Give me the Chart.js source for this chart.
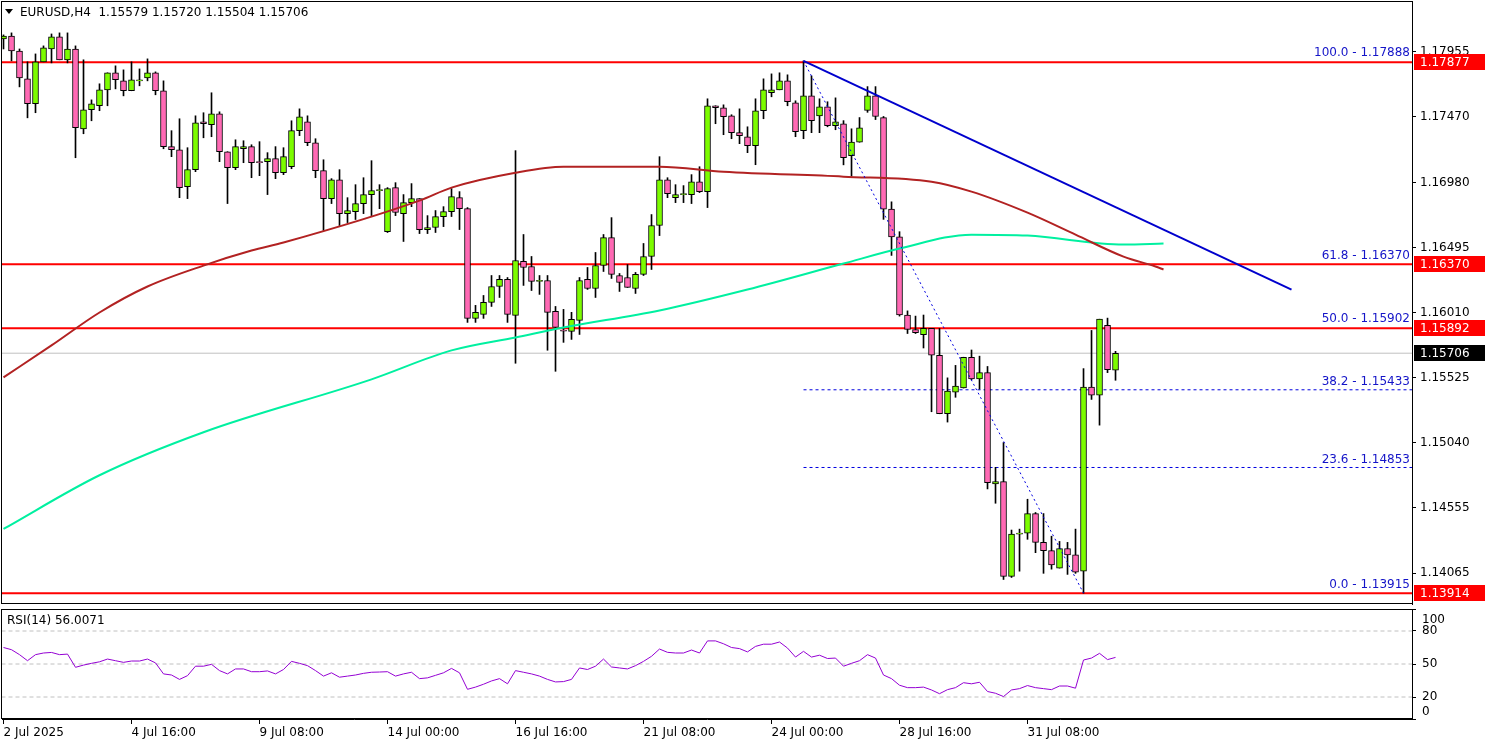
<!DOCTYPE html>
<html><head><meta charset="utf-8">
<script src="https://cdn.jsdelivr.net/npm/chart.js@4/dist/chart.umd.min.js"></script>
<style>
html,body{margin:0;padding:0;background:#fff;width:1485px;height:747px;overflow:hidden}
#w1{position:absolute;left:0;top:0;width:1485px;height:606px}
#w2{position:absolute;left:0;top:606px;width:1485px;height:141px}
</style></head><body>
<div id="w1"><canvas id="c1"></canvas></div>
<div id="w2"><canvas id="c2"></canvas></div>
<script>
const opens=[1.18052,1.18074,1.17962,1.17754,1.17568,1.17881,1.17977,1.18067,1.17896,1.17977,1.17381,1.17523,1.17553,1.17672,1.17799,1.17739,1.17665,1.17739,1.17761,1.17799,1.17665,1.17248,1.17225,1.16949,1.17076,1.17434,1.17411,1.17493,1.17210,1.17091,1.17232,1.17248,1.17136,1.17136,1.17158,1.17054,1.17098,1.17367,1.17434,1.17277,1.17069,1.16860,1.17001,1.16748,1.16763,1.16823,1.16890,1.16920,1.16614,1.16942,1.16748,1.16830,1.16860,1.16629,1.16644,1.16726,1.16763,1.16867,1.16785,1.15966,1.15996,1.16085,1.16204,1.16257,1.15988,1.16391,1.16353,1.16242,1.16249,1.16018,1.15877,1.15869,1.15951,1.16257,1.16189,1.16361,1.16569,1.16286,1.16271,1.16189,1.16294,1.16428,1.16659,1.17001,1.16867,1.16890,1.16890,1.16986,1.16912,1.17553,1.17538,1.17478,1.17352,1.17322,1.17255,1.17516,1.17650,1.17672,1.17739,1.17575,1.17367,1.17627,1.17478,1.17545,1.17404,1.17419,1.17181,1.17281,1.17519,1.17627,1.17465,1.16782,1.16574,1.15991,1.15883,1.15845,1.15891,1.15691,1.15254,1.15415,1.15446,1.15676,1.15515,1.15561,1.14731,1.14747,1.14040,1.14355,1.14363,1.14509,1.14294,1.14232,1.14102,1.14248,1.14201,1.14079,1.15453,1.15392,1.15914,1.15579];
const highs=[1.18082,1.18097,1.17977,1.17881,1.17940,1.18000,1.18089,1.18097,1.18097,1.18000,1.17896,1.17597,1.17717,1.17799,1.17851,1.17821,1.17881,1.17828,1.17903,1.17806,1.17739,1.17367,1.17456,1.17240,1.17478,1.17501,1.17650,1.17508,1.17210,1.17299,1.17292,1.17262,1.17285,1.17203,1.17248,1.17240,1.17441,1.17530,1.17478,1.17307,1.17150,1.17009,1.17076,1.16867,1.16964,1.17016,1.17143,1.16964,1.16942,1.16979,1.16890,1.16972,1.16860,1.16733,1.16771,1.16800,1.16935,1.16912,1.16793,1.16063,1.16137,1.16286,1.16286,1.16271,1.17218,1.16592,1.16428,1.16286,1.16286,1.16055,1.16033,1.16011,1.16271,1.16346,1.16458,1.16592,1.16718,1.16301,1.16368,1.16309,1.16525,1.16741,1.17173,1.17016,1.16964,1.16957,1.17039,1.17098,1.17605,1.17553,1.17560,1.17486,1.17530,1.17396,1.17605,1.17754,1.17791,1.17799,1.17784,1.17590,1.17888,1.17776,1.17605,1.17583,1.17612,1.17442,1.17381,1.17465,1.17696,1.17696,1.17473,1.16836,1.16613,1.16022,1.15983,1.15991,1.15891,1.15891,1.15522,1.15615,1.15676,1.15730,1.15684,1.15607,1.14854,1.15039,1.14386,1.14393,1.14616,1.14517,1.14509,1.14340,1.14301,1.14294,1.14393,1.15591,1.15876,1.15960,1.15968,1.15720];
const lows=[1.17977,1.17888,1.17694,1.17463,1.17501,1.17881,1.17873,1.17896,1.17873,1.17165,1.17344,1.17441,1.17516,1.17553,1.17679,1.17627,1.17665,1.17702,1.17739,1.17635,1.17232,1.17173,1.16867,1.16860,1.17061,1.17314,1.17322,1.17136,1.16823,1.17076,1.17128,1.17016,1.17031,1.16890,1.17009,1.17039,1.17083,1.17330,1.17255,1.17016,1.16622,1.16823,1.16659,1.16681,1.16704,1.16748,1.16733,1.16785,1.16607,1.16733,1.16540,1.16800,1.16599,1.16599,1.16607,1.16651,1.16726,1.16629,1.15936,1.15936,1.15966,1.16055,1.16122,1.15936,1.15631,1.16212,1.16174,1.16145,1.15728,1.15571,1.15787,1.15809,1.15846,1.16182,1.16122,1.16316,1.16264,1.16167,1.16197,1.16152,1.16286,1.16331,1.16584,1.16867,1.16830,1.16830,1.16823,1.16905,1.16793,1.17419,1.17337,1.17307,1.17270,1.17203,1.17113,1.17456,1.17620,1.17672,1.17553,1.17322,1.17307,1.17352,1.17352,1.17396,1.17374,1.17112,1.17028,1.17281,1.17504,1.17450,1.16705,1.16436,1.15983,1.15853,1.15853,1.15745,1.15269,1.15254,1.15192,1.15377,1.15446,1.15507,1.15438,1.14693,1.14586,1.14017,1.14032,1.14079,1.14317,1.14217,1.14063,1.14094,1.14102,1.14055,1.14063,1.13915,1.15361,1.15169,1.15561,1.15504];
const closes=[1.18074,1.17962,1.17761,1.17568,1.17881,1.17985,1.18067,1.17896,1.17977,1.17389,1.17523,1.17568,1.17672,1.17799,1.17747,1.17665,1.17747,1.17740,1.17799,1.17665,1.17248,1.17225,1.16942,1.17076,1.17426,1.17419,1.17493,1.17210,1.17091,1.17248,1.17248,1.17128,1.17129,1.17158,1.17054,1.17173,1.17367,1.17470,1.17277,1.17069,1.16860,1.17001,1.16748,1.16771,1.16823,1.16890,1.16920,1.16921,1.16935,1.16756,1.16830,1.16860,1.16629,1.16644,1.16726,1.16763,1.16875,1.16785,1.15966,1.16011,1.16085,1.16204,1.16257,1.15996,1.16398,1.16346,1.16242,1.16243,1.16011,1.15899,1.15870,1.15958,1.16249,1.16189,1.16361,1.16569,1.16294,1.16234,1.16197,1.16294,1.16428,1.16659,1.17001,1.16897,1.16890,1.16891,1.16986,1.16912,1.17553,1.17538,1.17471,1.17352,1.17329,1.17255,1.17516,1.17672,1.17672,1.17739,1.17583,1.17359,1.17627,1.17441,1.17545,1.17404,1.17434,1.17166,1.17281,1.17389,1.17627,1.17473,1.16782,1.16574,1.15991,1.15883,1.15860,1.15891,1.15691,1.15254,1.15423,1.15461,1.15676,1.15515,1.15561,1.14739,1.14747,1.14040,1.14355,1.14363,1.14509,1.14294,1.14232,1.14125,1.14248,1.14201,1.14071,1.15453,1.15392,1.15960,1.15584,1.15706];
const rsi=[65,63,58.5,53,58.5,60,60.5,58.5,59,47,49,50.6,52,54.5,53,51.5,52.7,52.7,54.5,51,41,40,36,39.4,48,48,49.7,44,41,45.5,45.5,43,43,43.7,41,45,52.4,50.6,48.5,44,39,42,38,39,40,41.5,42.5,42.7,43,39,41,42.5,36.7,37.4,39.7,42,46,42,27,29,31.6,34.6,36.7,32,44,42.5,41,39,36,33.7,34,36,46.4,45,48,54.5,47.3,46.4,45.5,48.5,52.4,57,63.6,60.6,60,60,62.7,60,71,71,68.4,65,64,61,66,68,68,70,64.5,56.3,61.5,56.3,58,55,55.4,48,50.6,53,58.5,55.4,40,36.7,30.7,28.5,28.5,29,26.4,23,26.7,28.5,33,32,33.4,25,23.4,20.4,26.4,27.6,30.4,28.5,27.6,26.7,30,30,28,53.6,55.4,59.7,54,56];
// moving averages read at selected bars
const maRedIdx=[0,6,12,18,25,31,35,52,56,64,70,82,90,105,116,121,128,134,140,144,145];
const maRedVal=[1.15526,1.15764,1.16010,1.16204,1.16360,1.16472,1.16532,1.16845,1.16942,1.17053,1.17098,1.17098,1.17061,1.17024,1.16986,1.16912,1.16755,1.16591,1.16427,1.16353,1.16331];
const maGreenIdx=[0,12,25,46,56,64,70,82,93,105,112,121,128,140,145];
const maGreenVal=[1.14394,1.14795,1.15116,1.15511,1.15727,1.15824,1.15898,1.16025,1.16181,1.16375,1.16487,1.16591,1.16584,1.16517,1.16524];
const trendIdx=[100,161], trendVal=[1.17888,1.16181];
const fibDiagIdx=[100,135], fibDiagVal=[1.17888,1.13915];
const redLevels=[1.17877,1.16370,1.15892,1.13914];
const fibLevels=['100.0','61.8','50.0','38.2','23.6','0.0'];
const fibValues=[1.17888,1.16370,1.15902,1.15433,1.14853,1.13915];
const lastPrice=1.15706;
const priceTicks=[1.17955,1.17470,1.16980,1.16495,1.16010,1.15525,1.15040,1.14555,1.14065];
const rsiTicks=[0,20,50,80,100];
const dateTickIdx=[0,16,32,48,64,80,96,112,128];
const dateLabels=['2 Jul 2025','4 Jul 16:00','9 Jul 08:00','14 Jul 00:00','16 Jul 16:00','21 Jul 08:00','24 Jul 00:00','28 Jul 16:00','31 Jul 08:00'];
const header='EURUSD,H4  1.15579 1.15720 1.15504 1.15706';

const FONT='DejaVu Sans';
const XMIN=-0.1875, XMAX=176.06, FIBEND=176.5;
const UP='#7CFC00', DN='#FF69B4';
const pts=(ix,v)=>ix.map((x,k)=>({x:x,y:v[k]}));
const hline=(v,a,b)=>[{x:a,y:v},{x:b,y:v}];
const idx=opens.map((_,i)=>i);
const colr=idx.map(i=>closes[i]>opens[i]?UP:DN);

const lineDs=(data,color,w,dash,order)=>({type:'line',data,borderColor:color,borderWidth:w,borderDash:dash||[],pointRadius:0,fill:false,tension:0,order:order});
const datasets=[
  ...redLevels.map(v=>lineDs(hline(v,-2,178),'#FF0000',2,null,5)),
  lineDs(hline(lastPrice,-2,178),'#C0C0C0',1,null,6),
  lineDs(hline(fibValues[3],100,FIBEND),'#0000E0',1,[3,3],5),
  lineDs(hline(fibValues[4],100,FIBEND),'#0000E0',1,[3,3],5),
  {type:'bar',data:idx.map(i=>({x:i,y:[lows[i],highs[i]]})),backgroundColor:'#000',barThickness:1,grouped:false,minBarLength:1,order:4},
  {type:'bar',data:idx.map(i=>({x:i,y:[opens[i],closes[i]]})),backgroundColor:colr,borderColor:'#000',borderWidth:1,borderSkipped:false,barThickness:6,grouped:false,minBarLength:1,order:3},
  Object.assign(lineDs(pts(maRedIdx,maRedVal),'#B22222',2,null,2),{cubicInterpolationMode:'monotone'}),
  Object.assign(lineDs(pts(maGreenIdx,maGreenVal),'#00F0A0',2,null,2),{cubicInterpolationMode:'monotone'}),
  lineDs(pts(trendIdx,trendVal),'#0000CD',2,null,1),
  lineDs(pts(fibDiagIdx,fibDiagVal),'#0000E0',1,[2,3],1)
];

const framePlugin={id:'frame',afterDraw(ch){
  const c=ch.ctx,a=ch.chartArea;c.save();c.strokeStyle='#000';c.lineWidth=1;
  c.strokeRect(Math.round(a.left)-0.5,Math.round(a.top)+0.5,Math.round(a.right-a.left)+1,Math.round(a.bottom-a.top)-1);c.restore();}};

const mainOverlay={id:'mainOverlay',afterDraw(ch){
  const c=ch.ctx,y=ch.scales.y,a=ch.chartArea;c.save();
  c.font='12px '+FONT;c.textBaseline='bottom';c.textAlign='right';c.fillStyle='#1414C8';
  fibValues.forEach((v,k)=>{c.fillText(fibLevels[k]+' - '+v.toFixed(5),a.right-2,y.getPixelForValue(v)-2);});
  const box=(v,bg)=>{const py=Math.round(y.getPixelForValue(v));c.fillStyle=bg;c.fillRect(a.right+2,py-8,ch.width-a.right-2,16);
    c.fillStyle='#fff';c.textAlign='left';c.textBaseline='middle';c.fillText(v.toFixed(5),a.right+8,py+1);};
  redLevels.forEach(v=>box(v,'#FF0000'));box(lastPrice,'#000');
  c.fillStyle='#000';c.beginPath();c.moveTo(5,9);c.lineTo(13,9);c.lineTo(9,14);c.closePath();c.fill();
  c.textAlign='left';c.textBaseline='middle';c.font='12px '+FONT;c.fillText(header,20,13);
  c.restore();}};

const noPad=s=>{s.paddingTop=0;s.paddingBottom=0;s.paddingLeft=0;s.paddingRight=0;};

new Chart(document.getElementById('c1'),{
  data:{datasets},
  options:{responsive:true,maintainAspectRatio:false,animation:false,
    layout:{padding:{left:2,top:1,bottom:2,right:0}},
    plugins:{legend:{display:false},tooltip:{enabled:false}},
    scales:{
      x:{type:'linear',min:XMIN,max:XMAX,display:false,offset:false,grid:{offset:false}},
      y:{position:'right',min:1.13834,max:1.18335,
        afterFit(s){s.width=73;noPad(s);},
        afterBuildTicks(s){s.ticks=priceTicks.map(v=>({value:v}));},
        border:{color:'#000'},
        grid:{drawOnChartArea:false,tickLength:4,color:'#000'},
        ticks:{color:'#000',font:{family:FONT,size:12},padding:4,callback:v=>v.toFixed(5)}}
    }},
  plugins:[framePlugin,mainOverlay]});

const rsiOverlay={id:'rsiOverlay',afterDraw(ch){const c=ch.ctx,a=ch.chartArea,y=ch.scales.y;c.save();c.font='12px '+FONT;c.fillStyle='#000';c.textBaseline='middle';c.textAlign='left';
  c.fillText('RSI(14) '+(56.0071).toFixed(4),7,15);
  rsiTicks.forEach(v=>{let py=y.getPixelForValue(v);py=Math.min(Math.max(py,a.top+11),a.bottom-7);c.fillText(String(v),a.right+10,py);});
  c.restore();}};

new Chart(document.getElementById('c2'),{
  data:{datasets:[
    ...[80,50,20].map(v=>lineDs(hline(v,-2,178),'#C0C0C0',1,[4,3],3)),
    lineDs(idx.map(i=>({x:i,y:rsi[i]})),'#9400D3',1,null,1)
  ]},
  options:{responsive:true,maintainAspectRatio:false,animation:false,
    layout:{padding:{left:2,top:3,right:0,bottom:0}},
    plugins:{legend:{display:false},tooltip:{enabled:false}},
    scales:{
      x:{type:'linear',min:XMIN,max:XMAX,offset:false,
        afterFit(s){s.height=28;noPad(s);},
        afterBuildTicks(s){s.ticks=dateTickIdx.map(v=>({value:v}));},
        border:{color:'#000'},
        grid:{drawOnChartArea:false,tickLength:5,color:'#000',offset:false},
        ticks:{color:'#000',font:{family:FONT,size:12},padding:2,maxRotation:0,align:'start',autoSkip:false,
          callback:v=>dateLabels[dateTickIdx.indexOf(v)]||''}},
      y:{position:'right',min:0,max:100,
        afterFit(s){s.width=73;noPad(s);},
        afterBuildTicks(s){s.ticks=rsiTicks.map(v=>({value:v}));},
        border:{color:'#000'},
        grid:{drawOnChartArea:false,tickLength:4,color:'#000'},
        ticks:{display:false}}
    }},
  plugins:[framePlugin,rsiOverlay]});
</script></body></html>
